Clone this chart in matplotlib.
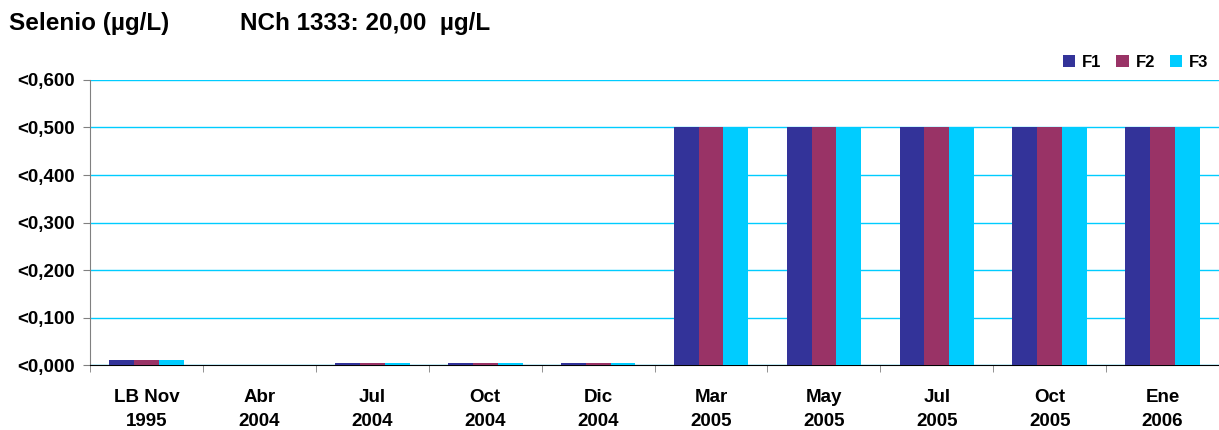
import matplotlib
matplotlib.use("Agg")
import matplotlib.pyplot as plt
import numpy as np
from matplotlib.ticker import FuncFormatter, FixedLocator

plt.rcParams["font.family"] = ["Liberation Sans", "DejaVu Sans"]

categories = ["LB Nov\n1995", "Abr\n2004", "Jul\n2004", "Oct\n2004", "Dic\n2004",
              "Mar\n2005", "May\n2005", "Jul\n2005", "Oct\n2005", "Ene\n2006"]
f1 = [0.010, 0.0, 0.005, 0.005, 0.005, 0.5, 0.5, 0.5, 0.5, 0.5]
f2 = [0.010, 0.0, 0.005, 0.005, 0.005, 0.5, 0.5, 0.5, 0.5, 0.5]
f3 = [0.010, 0.0, 0.005, 0.005, 0.005, 0.5, 0.5, 0.5, 0.5, 0.5]
series = {"F1": f1, "F2": f2, "F3": f3}
colors = ["#333399", "#993366", "#00CCFF"]

fig = plt.figure(figsize=(12.19, 4.30), dpi=100)
ax = fig.add_axes([0.074, 0.151, 0.926, 0.663])

x = np.arange(len(categories))
w = 0.22
for i, (name, vals) in enumerate(series.items()):
    ax.bar(x + (i - 1) * w, vals, w, color=colors[i], label=name, zorder=3)

ax.set_xlim(-0.5, len(categories) - 0.5)
ax.set_ylim(0, 0.6)
ax.set_yticks(np.arange(0, 0.61, 0.1))
ax.yaxis.set_major_formatter(FuncFormatter(lambda v, p: "<" + f"{v:.3f}".replace(".", ",")))
ax.yaxis.grid(True, color="#00CCFF", lw=1, zorder=0)
ax.set_axisbelow(True)

ax.set_xticks(x)
ax.set_xticklabels(categories, fontweight="bold", fontsize=13.5, linespacing=1.55)
ax.tick_params(axis="x", which="major", length=0, pad=17)
ax.xaxis.set_minor_locator(FixedLocator(np.arange(-0.5, len(categories), 1.0)))
ax.tick_params(axis="x", which="minor", length=5, color="#808080")
ax.tick_params(axis="y", length=5, color="#808080", labelsize=13.5, pad=6)
for lab in ax.get_yticklabels():
    lab.set_fontweight("bold")

for s in ["top", "right"]:
    ax.spines[s].set_visible(False)
ax.spines["left"].set_color("#808080")
ax.spines["bottom"].set_color("black")

fig.text(0.007, 0.945, "Selenio (µg/L)", fontsize=17.5, fontweight="bold", va="center")
fig.text(0.197, 0.945, "NCh 1333: 20,00  µg/L", fontsize=17.5, fontweight="bold", va="center")

ax.legend(loc="lower right", bbox_to_anchor=(0.9965, 1.012), ncol=3, frameon=False,
          prop={"weight": "bold", "size": 12}, handlelength=0.75, handleheight=0.75,
          columnspacing=0.9, handletextpad=0.4, borderaxespad=0)

fig.savefig("out.png", dpi=100)
